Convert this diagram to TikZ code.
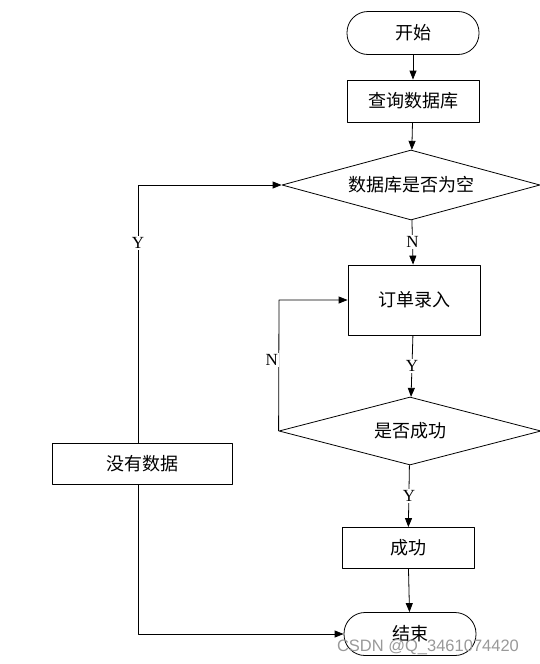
\documentclass[tikz,border=0pt]{standalone}
\usepackage{fontspec}
\setmainfont{Liberation Serif}
\newfontfamily\cjk{Noto Sans CJK SC}
\newfontfamily\marksans{Liberation Sans}
\usetikzlibrary{shapes.geometric,arrows.meta}

\tikzset{
  procbox/.style={draw, rectangle, minimum width=132pt, minimum height=42pt,
    inner sep=0pt, font=\cjk\fontsize{18}{18}\selectfont},
  termbox/.style={procbox, minimum height=43pt, rounded corners=21pt},
  choice/.style={draw, diamond, inner sep=0pt, aspect=3.7,
    minimum width=258pt, minimum height=70pt, font=\cjk\fontsize{18}{18}\selectfont},
  flow/.style={-{Triangle[length=9pt,width=7pt]}},
  yn/.style={fill=white, inner sep=1.5pt, font=\fontsize{17}{17}\selectfont}
}

\begin{document}
\begin{tikzpicture}[x=1pt, y=-1pt, line width=0.8pt, line join=round]
    % Page frame of the reference (540 x 664)
    \useasboundingbox (0,0) rectangle (540,664);

    % Main column
    \node[termbox] (start) at (413,33) {开始};
    \node[procbox] (query) at (413,101) {查询数据库};
    \node[choice] (isempty) at (411,185) {数据库是否为空};
    \node[procbox, minimum height=70pt] (order) at (414,300) {订单录入};
    \node[choice, minimum width=262pt, minimum height=68pt] (isok) at (410,431) {是否成功};
    \node[procbox, minimum height=41pt] (done) at (408,548) {成功};
    \node[termbox] (finish) at (410,634) {结束};

    % Left branch
    \node[procbox, minimum width=180pt, minimum height=41pt] (nodata) at (142,464) {没有数据};

    % Corners of the elbow lines
    \coordinate (ytop) at (138,185);
    \coordinate (ybot) at (138,634);
    \coordinate (ntop) at (279,300);

    % Straight arrows down the column
    \draw[flow] (start) -- (query);
    \draw[flow] (query) -- (isempty);
    \draw[flow] (isempty) -- node[yn] {N} (order);
    \draw[flow] (order) -- node[yn] {Y} (isok);
    \draw[flow] (isok) -- node[yn] {Y} (done);
    \draw[flow] (done) -- (finish);

    % Retry loop on the left of the order box
    \draw[flow] (isok.west) -- node[yn, xshift=-7pt, pos=0.54] {N} (ntop) -- (order.west);

    % Empty database branch
    \draw[flow] (nodata.north -| ytop) -- node[yn, pos=0.775] {Y} (ytop) -- (isempty.west);
    \draw[flow] (nodata.south -| ytop) -- (ybot) -- (finish.west);

    % Watermark
    \node[text=black!40, font=\marksans\fontsize{16.5}{16.5}\selectfont, inner sep=0pt] (mark) at (428,647) {CSDN @Q\_3461074420};
\end{tikzpicture}
\end{document}
